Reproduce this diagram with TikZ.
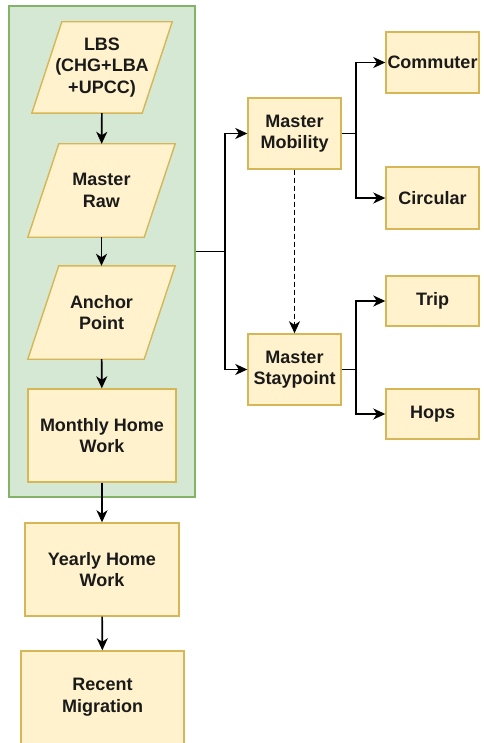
\documentclass[tikz,border=0pt]{standalone}
\usepackage{fontspec}
\setmainfont{Liberation Sans}
\usetikzlibrary{arrows.meta,backgrounds}
\definecolor{yfill}{HTML}{FFF2CC}
\definecolor{ydraw}{HTML}{D6B656}
\definecolor{gfill}{HTML}{D5E8D4}
\definecolor{gdraw}{HTML}{82B366}
\definecolor{txt}{HTML}{1A1A1A}
\tikzset{
  base/.style={inner sep=0pt, align=center, text=txt,
    font=\fontsize{18}{21.6}\selectfont\bfseries},
  ybox/.style={base, rectangle, draw=ydraw, fill=yfill, line width=1.4pt},
  pbox/.style={base, rectangle, draw=none},
  pshape/.style={draw=ydraw, fill=yfill, line width=1.4pt, line join=miter},
  arr/.style={draw=black, line width=1.6pt, -{Stealth[length=12pt,width=11pt,inset=3.5pt]}},
  ln/.style={draw=black, line width=1.6pt}
}
\begin{document}
\begin{tikzpicture}[x=1pt,y=-1pt]
\useasboundingbox (0,0) rectangle (483,743);
% left column
\node[pbox, minimum width=140pt, minimum height=91pt] (lbs) at (102,67.5) {LBS\\(CHG+LBA\\+UPCC)};
\node[pbox, minimum width=147pt, minimum height=93pt] (raw) at (101.5,190.5) {Master\\Raw};
\node[pbox, minimum width=147pt, minimum height=93pt] (anc) at (101.5,312.5) {Anchor\\Point};
\begin{scope}[on background layer]
  \node[rectangle, draw=gdraw, fill=gfill, line width=1.4pt, minimum width=186pt, minimum height=491pt, inner sep=0pt] (grp) at (102,251.5) {};
  \foreach \n/\s in {lbs/30,raw/31,anc/31}{
    \draw[pshape] (\n.south west) -- ([xshift=-\s pt]\n.south east) -- (\n.north east) -- ([xshift=\s pt]\n.north west) -- cycle;
  }
\end{scope}
\node[ybox, minimum width=148pt, minimum height=93pt] (mon) at (102,435.5) {Monthly Home\\Work};
\node[ybox, minimum width=154pt, minimum height=93pt] (yea) at (102,569.5) {Yearly Home\\Work};
\node[ybox, minimum width=163pt, minimum height=93pt] (rec) at (102.5,697.5) {Recent\\Migration};
% right side
\node[ybox, minimum width=93pt, minimum height=71pt] (mob) at (294.5,133.5) {Master\\Mobility};
\node[ybox, minimum width=93pt, minimum height=71pt] (sta) at (294.5,369.5) {Master\\Staypoint};
\node[ybox, minimum width=93pt, minimum height=61pt] (com) at (432.5,62.5) {Commuter};
\node[ybox, minimum width=93pt, minimum height=62pt] (cir) at (432.5,198) {Circular};
\node[ybox, minimum width=93pt, minimum height=50pt] (trp) at (432.5,301) {Trip};
\node[ybox, minimum width=93pt, minimum height=50pt] (hop) at (432.5,414) {Hops};
% connectors
\draw[arr] (lbs) -- (raw);
\draw[arr] (raw) -- (anc);
\draw[arr] (anc) -- (mon);
\draw[arr] (mon) -- (yea);
\draw[arr] (yea) -- (rec);
\coordinate (j1) at (225,251.5);
\draw[ln] (grp.east) -- (j1);
\draw[arr] (j1) |- (mob.west);
\draw[arr] (j1) |- (sta.west);
\coordinate (j2) at (356,133.5);
\draw[ln] (mob.east) -- (j2);
\draw[arr] (j2) |- (com.west);
\draw[arr] (j2) |- (cir.west);
\coordinate (j3) at (356,369.5);
\draw[ln] (sta.east) -- (j3);
\draw[arr] (j3) |- (trp.west);
\draw[arr] (j3) |- (hop.west);
\draw[arr, dash pattern=on 5pt off 3pt] (mob) -- (sta);
\end{tikzpicture}
\end{document}
